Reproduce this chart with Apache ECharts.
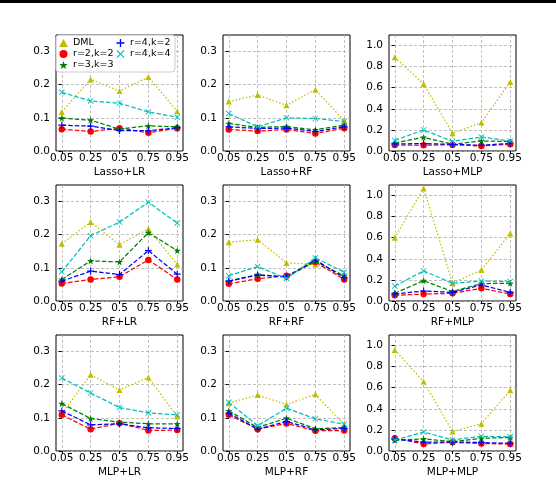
<!DOCTYPE html>
<html><head><meta charset="utf-8">
<script src="https://cdn.jsdelivr.net/npm/echarts@6/dist/echarts.min.js"></script>
<style>html,body{margin:0;padding:0;background:#fff}#c{width:556px;height:480px}</style>
</head><body><div id="c"></div>
<script>
const xLabels = ['0.05','0.25','0.5','0.75','0.95'];
const seriesNames = ['DML','r=2,k=2','r=3,k=3','r=4,k=2','r=4,k=4'];
const panelTitles = ['Lasso+LR','Lasso+RF','Lasso+MLP','RF+LR','RF+RF','RF+MLP','MLP+LR','MLP+RF','MLP+MLP'];
const smallTicks = [0, 0.1, 0.2, 0.3];
const largeTicks = [0, 0.2, 0.4, 0.6, 0.8, 1.0];

// rows: DML, r=2,k=2, r=3,k=3, r=4,k=2, r=4,k=4
const lassoLR = [
  [0.118,0.216,0.181,0.223,0.120],
  [0.066,0.059,0.069,0.055,0.069],
  [0.099,0.093,0.066,0.076,0.073],
  [0.078,0.075,0.062,0.061,0.070],
  [0.177,0.151,0.144,0.118,0.102]];
const lassoRF = [
  [0.149,0.169,0.138,0.185,0.091],
  [0.065,0.060,0.065,0.053,0.069],
  [0.083,0.071,0.074,0.064,0.078],
  [0.073,0.068,0.069,0.059,0.073],
  [0.113,0.073,0.100,0.098,0.089]];
const lassoMLP = [
  [0.889,0.635,0.168,0.270,0.654],
  [0.057,0.054,0.060,0.048,0.063],
  [0.076,0.130,0.063,0.095,0.090],
  [0.067,0.070,0.063,0.054,0.073],
  [0.100,0.200,0.092,0.133,0.095]];
const rfLR = [
  [0.173,0.238,0.170,0.218,0.110],
  [0.053,0.065,0.073,0.124,0.065],
  [0.065,0.121,0.118,0.206,0.152],
  [0.060,0.090,0.080,0.152,0.081],
  [0.088,0.197,0.238,0.298,0.235]];
const rfRF = [
  [0.177,0.185,0.115,0.110,0.080],
  [0.052,0.067,0.076,0.118,0.065],
  [0.060,0.080,0.072,0.120,0.075],
  [0.060,0.078,0.073,0.124,0.070],
  [0.076,0.104,0.068,0.130,0.087]];
const rfMLP = [
  [0.600,1.070,0.168,0.294,0.640],
  [0.054,0.066,0.073,0.120,0.066],
  [0.073,0.193,0.089,0.165,0.168],
  [0.066,0.095,0.082,0.152,0.082],
  [0.142,0.285,0.168,0.190,0.184]];
const mlpLR = [
  [0.112,0.230,0.184,0.222,0.104],
  [0.109,0.066,0.084,0.062,0.063],
  [0.143,0.098,0.087,0.082,0.082],
  [0.121,0.079,0.082,0.070,0.068],
  [0.220,0.175,0.131,0.115,0.109]];
const mlpRF = [
  [0.144,0.169,0.140,0.171,0.079],
  [0.109,0.066,0.083,0.061,0.062],
  [0.121,0.071,0.099,0.067,0.071],
  [0.114,0.066,0.089,0.064,0.068],
  [0.147,0.076,0.129,0.097,0.081]];
const mlpMLP = [
  [0.958,0.658,0.185,0.259,0.575],
  [0.121,0.067,0.083,0.070,0.067],
  [0.100,0.115,0.089,0.121,0.128],
  [0.115,0.083,0.086,0.080,0.073],
  [0.105,0.179,0.105,0.140,0.134]];

const panels = [lassoLR, lassoRF, lassoMLP, rfLR, rfRF, rfMLP, mlpLR, mlpRF, mlpMLP];
const isLarge = [false,false,true,false,false,true,false,false,true];

const STAR = 'path://M5,0L6.18,3.38L9.76,3.45L6.9,5.62L7.94,9.05L5,7L2.06,9.05L3.1,5.62L0.24,3.45L3.82,3.38Z';
const PLUS = 'path://M4.2,0H5.8V4.2H10V5.8H5.8V10H4.2V5.8H0V4.2H4.2Z';
const CROSS = 'path://M1,0L5,4L9,0L10,1L6,5L10,9L9,10L5,6L1,10L0,9L4,5L0,1Z';
const styles = [
  {color:'#bfbf00', symbol:'triangle', size:6, dash:[1.5,2]},
  {color:'#ff0000', symbol:'circle', size:6.5, dash:[4.5,2]},
  {color:'#008000', symbol:STAR, size:7, dash:[4.5,2]},
  {color:'#0000ff', symbol:PLUS, size:7, dash:[4.5,2]},
  {color:'#00bfbf', symbol:CROSS, size:6, dash:[4.5,2]}
];

const colLeft = [56, 223, 389];
const rowTop = [35, 185, 335];
const W = 127, H = 116;
const FONT = 'DejaVu Sans';

const grid = [], xAxis = [], yAxis = [], series = [];
panels.forEach((p, i) => {
  const r = Math.floor(i / 3), c = i % 3;
  grid.push({left: colLeft[c], top: rowTop[r], width: W, height: H,
    show: true, borderColor: '#000', borderWidth: 1, backgroundColor: 'transparent', containLabel: false});
  xAxis.push({type: 'value', gridIndex: i, min: -0.2, max: 4.2,
    name: panelTitles[i], nameLocation: 'middle', nameGap: 16,
    nameTextStyle: {fontFamily: FONT, fontSize: 10.5, color: '#000'},
    axisLine: {show: false},
    axisTick: {show: true, length: 3, customValues: [0,1,2,3,4], lineStyle: {color: '#000'}},
    axisLabel: {customValues: [0,1,2,3,4], formatter: v => xLabels[Math.round(v)], margin: 1.5,
      fontFamily: FONT, fontSize: 10.5, color: '#000'},
    splitLine: {show: true, lineStyle: {color: '#b0b0b0', type: [3,2], width: 0.8}}
  });
  const ticks = isLarge[i] ? largeTicks : smallTicks;
  yAxis.push({type: 'value', gridIndex: i, min: 0, max: isLarge[i] ? 1.1 : 0.35,
    interval: isLarge[i] ? 0.2 : 0.1,
    axisLine: {show: false},
    axisTick: {show: true, length: 3, customValues: ticks, lineStyle: {color: '#000'}},
    axisLabel: {customValues: ticks, formatter: v => v.toFixed(1), margin: 6,
      fontFamily: FONT, fontSize: 10.5, color: '#000'},
    splitLine: {show: true, lineStyle: {color: '#b0b0b0', type: [3,2], width: 0.8}}
  });
  p.forEach((vals, s) => {
    const st = styles[s];
    series.push({type: 'line', name: seriesNames[s], xAxisIndex: i, yAxisIndex: i,
      data: vals.map((v, j) => [j, v]),
      symbol: st.symbol, symbolSize: st.size, showAllSymbol: true,
      itemStyle: {color: st.color}, lineStyle: {color: st.color, width: 1.25, type: st.dash},
      z: 2 + s, animation: false, silent: true});
  });
});

const chart = echarts.init(document.getElementById('c'), null, {renderer: 'canvas'});
chart.setOption({
  backgroundColor: '#fff',
  animation: false,
  graphic: [{type: 'rect', left: 0, top: 0, shape: {width: 556, height: 3}, style: {fill: '#000'}}],
  legend: {
    left: 56, top: 35, orient: 'vertical', height: 33,
    itemGap: 1, itemWidth: 9, itemHeight: 8,
    padding: [3, 3, 2, 3],
    backgroundColor: 'rgba(255,255,255,0.85)', borderColor: '#cccccc', borderWidth: 1, borderRadius: 3,
    textStyle: {fontFamily: FONT, fontSize: 9.5, color: '#000', width: 42, lineHeight: 9.5},
    data: [
      {name: 'DML', icon: 'triangle'},
      {name: 'r=2,k=2', icon: 'circle'},
      {name: 'r=3,k=3', icon: STAR},
      {name: 'r=4,k=2', icon: PLUS},
      {name: 'r=4,k=4', icon: CROSS}
    ]
  },
  grid, xAxis, yAxis, series
});
</script></body></html>
